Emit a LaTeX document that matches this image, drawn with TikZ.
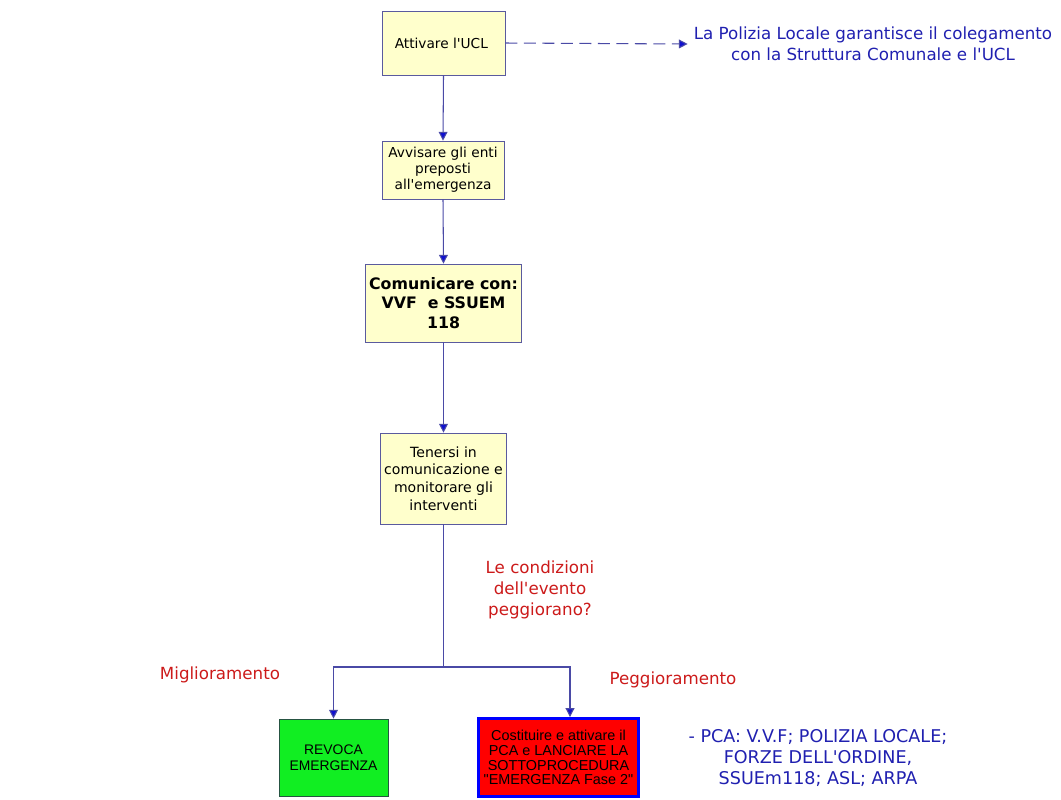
\documentclass[tikz,border=0pt]{standalone}
\usepackage{fontspec}
\setmainfont{DejaVu Sans}[Ligatures=TeXOff]
\newfontfamily\arialfont{Liberation Sans}[Ligatures=TeXOff]
\usetikzlibrary{arrows.meta, positioning, calc}
\definecolor{boxfill}{HTML}{FFFFCC}
\definecolor{boxline}{HTML}{5A5A9E}
\definecolor{flowline}{HTML}{4A4AA6}
\definecolor{tipblue}{HTML}{1010D0}
\definecolor{notered}{HTML}{CC1A1A}
\definecolor{noteblue}{HTML}{2020B0}
\definecolor{revgreen}{HTML}{11EE22}

\begin{document}
\begin{tikzpicture}[
    x=0.02cm, y=-0.02cm,
    >={Triangle[length=5pt, width=5pt, fill=tipblue]},
    box/.style={
        draw=boxline,
        fill=boxfill,
        align=center,
        inner sep=2pt,
        font=\fontsize{7.8}{9.2}\selectfont,
    },
    flow/.style={
        ->,
        draw=flowline,
        line width=0.6pt,
    },
    note/.style={
        align=center,
        font=\fontsize{9.5}{12}\selectfont,
    },
]

% --- fixed frame, same proportions as the reference ---
\useasboundingbox (0,0) rectangle (1061,799);

% --- main column of steps ---
\node[box, minimum width=2.46cm, minimum height=1.28cm] (attivare) at (443.5,43) {
    Attivare l'UCL
};
\node[box, minimum width=2.44cm, minimum height=1.16cm] (avvisare) at (443,170) {
    Avvisare gli enti\\preposti\\all'emergenza
};
\node[box, minimum width=2.94cm, minimum height=1.56cm,
    font=\fontsize{9}{11}\selectfont\bfseries] (comunicare) at (443.5,303) {
    Comunicare con:\\VVF\ \ e SSUEM\\118
};
\node[box, minimum width=2.46cm, minimum height=1.82cm,
    font=\fontsize{8}{10}\selectfont] (tenersi) at (443.5,478.5) {
    Tenersi in\\comunicazione e\\monitorare gli\\interventi
};

% --- outcome boxes ---
\node[box, fill=revgreen, draw=boxline!70!green!60!black, minimum width=2.18cm,
    minimum height=1.54cm, font=\arialfont\fontsize{7.9}{9.2}\selectfont] (revoca) at (333.5,757.5) {
    REVOCA\\EMERGENZA
};
\node[box, fill=red, draw=blue, line width=1.7pt, minimum width=3.2cm,
    minimum height=1.56cm, font=\arialfont\fontsize{8.2}{8.4}\selectfont] (costituire) at (558.5,757.5) {
    Costituire e attivare il\\PCA e LANCIARE LA\\SOTTOPROCEDURA\\"EMERGENZA Fase 2"
};

% --- notes ---
\node[note, text=noteblue] (ucltext) at (873,44) {
    La Polizia Locale garantisce il colegamento\\con la Struttura Comunale e l'UCL
};
\node[note, text=notered] (domanda) at (540,590) {
    Le condizioni\\dell'evento\\peggiorano?
};
\node[note, text=notered] (miglior) at (220,675) {Miglioramento};
\node[note, text=notered] (peggior) at (673,680) {Peggioramento};
\node[note, text=noteblue, font=\fontsize{10}{12.2}\selectfont] (pca) at (818,758) {
    - PCA: V.V.F; POLIZIA LOCALE;\\FORZE DELL'ORDINE,\\SSUEm118; ASL; ARPA
};

% --- connectors ---
\draw[flow, dash pattern=on 0.24cm off 0.13cm] (attivare.east) -- (ucltext.west);
\draw[flow] (attivare.south) -- (avvisare.north);
\draw[flow] (avvisare.south) -- (comunicare.north);
\draw[flow] (comunicare.south) -- (tenersi.north);

% branch point under the last step
\coordinate (split) at (443.5,667);
\draw[flowline, line width=0.6pt] (tenersi.south) -- (split);
\draw[flow] (split) -| (revoca.north);
\draw[flow] (split) -| ([xshift=0.23cm]costituire.north);

\end{tikzpicture}
\end{document}
